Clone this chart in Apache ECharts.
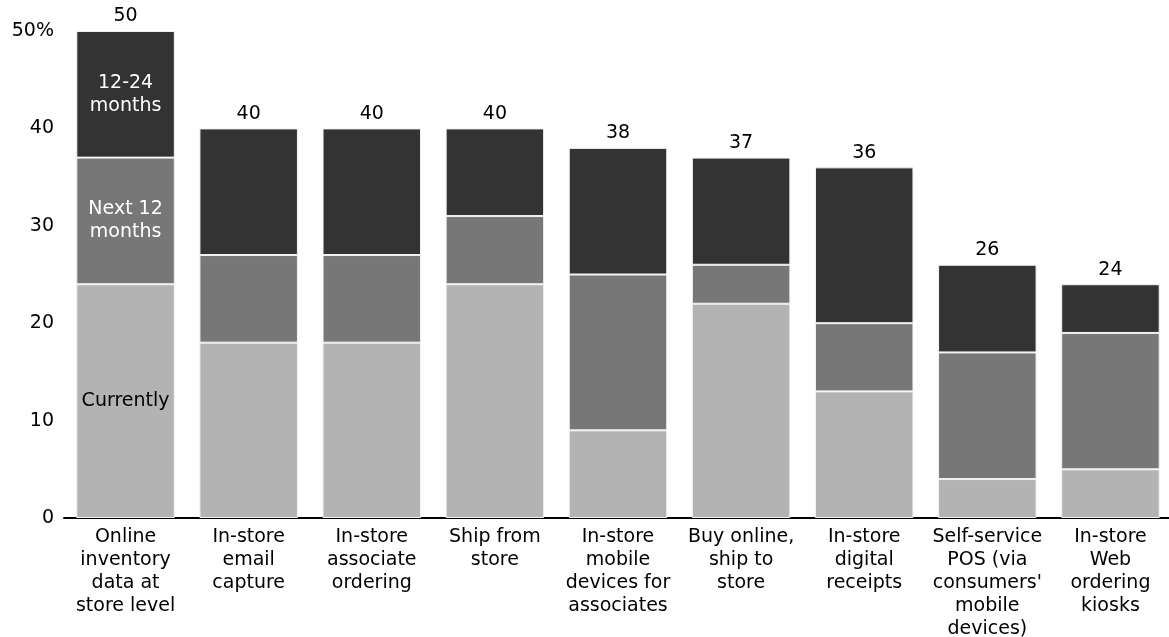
<!DOCTYPE html>
<html>
<head>
<meta charset="utf-8">
<script src="https://cdn.jsdelivr.net/npm/echarts@6/dist/echarts.min.js"></script>
<style>html,body{margin:0;padding:0;background:#fff;}#c{width:1169px;height:637px;}</style>
</head>
<body>
<div id="c"></div>
<script>
const categories = [
  "Online\ninventory\ndata at\nstore level",
  "In-store\nemail\ncapture",
  "In-store\nassociate\nordering",
  "Ship from\nstore",
  "In-store\nmobile\ndevices for\nassociates",
  "Buy online,\nship to\nstore",
  "In-store\ndigital\nreceipts",
  "Self-service\nPOS (via\nconsumers'\nmobile\ndevices)",
  "In-store\nWeb\nordering\nkiosks"
];
const currently = [24, 18, 18, 24, 9, 22, 13, 4, 5];
const next12 = [13, 9, 9, 7, 16, 4, 7, 13, 14];
const months12to24 = [13, 13, 13, 9, 13, 11, 16, 9, 5];
const seriesNames = ["Currently", "Next 12\nmonths", "12-24\nmonths"];
const yTicks = [0, 10, 20, 30, 40, 50];

const FONT = "DejaVu Sans";
const FS = 19;
const totals = categories.map((_, i) => currently[i] + next12[i] + months12to24[i]);

function withFirstLabel(arr, text, color) {
  return arr.map((v, i) => i === 0 ? {
    value: v,
    label: { show: true, position: 'inside', formatter: text, color: color, fontFamily: FONT, fontSize: FS, lineHeight: 23 }
  } : v);
}

const chart = echarts.init(document.getElementById('c'), null, { renderer: 'canvas' });
chart.setOption({
  animation: false,
  backgroundColor: '#fff',
  grid: { left: 64, right: -3, top: 31, bottom: 119, containLabel: false, outerBoundsMode: 'none' },
  xAxis: {
    type: 'category',
    data: categories,
    axisLine: { show: true, lineStyle: { color: '#000', width: 2 } },
    axisTick: { show: false },
    axisLabel: { interval: 0, color: '#000', fontFamily: FONT, fontSize: FS, lineHeight: 23, margin: 8 }
  },
  yAxis: {
    type: 'value',
    min: 0, max: 50, interval: 10,
    axisLine: { show: false },
    axisTick: { show: false },
    splitLine: { show: false },
    axisLabel: {
      color: '#000', fontFamily: FONT, fontSize: FS, margin: 10,
      formatter: v => yTicks.indexOf(v) === yTicks.length - 1 ? v + '%' : String(v)
    }
  },
  series: [
    {
      name: seriesNames[0], type: 'bar', stack: 's', barCategoryGap: '20%',
      itemStyle: { color: '#b3b3b3', borderColor: '#f2f2f2', borderWidth: 1 },
      data: withFirstLabel(currently, seriesNames[0], '#000')
    },
    {
      name: seriesNames[1], type: 'bar', stack: 's', barCategoryGap: '20%',
      itemStyle: { color: '#777777', borderColor: '#f2f2f2', borderWidth: 1 },
      data: withFirstLabel(next12, seriesNames[1], '#fff')
    },
    {
      name: seriesNames[2], type: 'bar', stack: 's', barCategoryGap: '20%',
      itemStyle: { color: '#333333', borderColor: '#f2f2f2', borderWidth: 1 },
      data: withFirstLabel(months12to24, seriesNames[2], '#fff')
    },
    {
      name: 'total', type: 'bar', stack: 's', barCategoryGap: '20%',
      itemStyle: { color: 'transparent' },
      data: totals.map(() => 0),
      label: {
        show: true, position: 'top', distance: 5, color: '#000', fontFamily: FONT, fontSize: FS,
        formatter: p => String(totals[p.dataIndex])
      },
      silent: true
    }
  ]
});
</script>
</body>
</html>
